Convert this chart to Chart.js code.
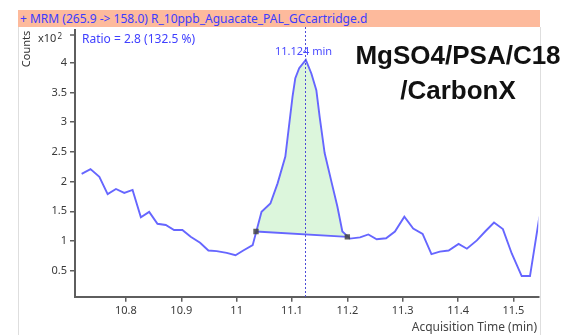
<!DOCTYPE html>
<html>
<head>
<meta charset="utf-8">
<title>MRM 265.9 -> 158.0</title>
<script src="https://cdn.jsdelivr.net/npm/chart.js@4/dist/chart.umd.min.js"></script>
<style>
  html, body { margin: 0; padding: 0; background: #fff; }
  #wrap { position: relative; width: 572px; height: 335px; overflow: hidden; font-family: "Noto Sans", "Liberation Sans", sans-serif; }
  #chart { position: absolute; left: 0; top: 0; }
  .frame { position: absolute; top: 27px; bottom: 0; width: 1px; background: #dedede; }
  #hdr { position: absolute; left: 18px; top: 10px; width: 522px; height: 17px; background: #fdba9c;
         color: #3c3cff; font-size: 12px; line-height: 17px; padding-left: 2px; box-sizing: border-box;
         white-space: nowrap; overflow: hidden; }
  #counts { position: absolute; left: 25px; top: 49px; font-size: 11px; color: #333;
            transform: translate(-50%, -50%) rotate(-90deg); white-space: nowrap; }
  #expo { position: absolute; left: 38px; top: 31px; font-size: 11px; line-height: 14px; color: #333; }
  #expo sup { font-size: 8px; position: relative; top: -2px; vertical-align: top; margin-left: 1px; }
  #ratio { position: absolute; left: 82px; top: 32px; font-size: 12px; line-height: 14px; color: #4040ff; white-space: nowrap; }
  #xtitle { position: absolute; right: 35px; top: 321px; font-size: 12px; line-height: 12px; color: #444; white-space: nowrap; }
  #method { position: absolute; left: 338px; width: 240px; top: 38px; text-align: center;
            font-family: "Liberation Sans", Arial, sans-serif; font-weight: bold; font-size: 26px;
            line-height: 35px; color: #111; }
</style>
</head>
<body>
<div id="wrap">
  <canvas id="chart" width="572" height="335"></canvas>
  <div class="frame" style="left:18px"></div>
  <div class="frame" style="left:540px"></div>
  <div id="hdr">+ MRM (265.9 -&gt; 158.0) R_10ppb_Aguacate_PAL_GCcartridge.d</div>
  <div id="counts">Counts</div>
  <div id="expo">x10<sup>2</sup></div>
  <div id="ratio">Ratio = 2.8 (132.5 %)</div>
  <div id="xtitle">Acquisition Time (min)</div>
  <div id="method">MgSO4/PSA/C18<br>/CarbonX</div>
</div>
<script>
// Chromatogram trace: acquisition time (min) and counts (x10^2)
const times = [10.720, 10.736, 10.752, 10.767, 10.782, 10.797, 10.812, 10.827, 10.842, 10.857,
               10.872, 10.887, 10.902, 10.917, 10.934, 10.949, 10.964, 10.982, 10.998, 11.012,
               11.029, 11.045, 11.061, 11.074, 11.088, 11.101, 11.106, 11.113, 11.125, 11.135,
               11.144, 11.150, 11.159, 11.172, 11.182, 11.191, 11.205, 11.223, 11.238, 11.253,
               11.270, 11.286, 11.303, 11.319, 11.336, 11.352, 11.367, 11.383, 11.401, 11.416,
               11.434, 11.449, 11.465, 11.481, 11.497, 11.515, 11.530, 11.547];
const counts = [2.13, 2.21, 2.08, 1.79, 1.875, 1.81, 1.86, 1.40, 1.49, 1.29,
                1.27, 1.185, 1.185, 1.07, 0.97, 0.84, 0.83, 0.80, 0.76, 0.84,
                0.93, 1.49, 1.63, 1.97, 2.42, 3.43, 3.74, 3.91, 4.05, 3.82,
                3.54, 3.09, 2.48, 1.97, 1.58, 1.16, 1.04, 1.06, 1.11, 1.03,
                1.045, 1.16, 1.41, 1.21, 1.12, 0.78, 0.82, 0.84, 0.95, 0.87,
                1.01, 1.16, 1.31, 1.20, 0.79, 0.41, 0.41, 1.41];

// Integration baseline end points (start, end)
const baseTimes = [11.035, 11.200];
const baseCounts = [1.16, 1.07];

// Retention time of the apex
const apexTime = 11.124;
const apexCount = 4.05;

// Axis tick values
const xTickValues = [10.8, 10.9, 11.0, 11.1, 11.2, 11.3, 11.4, 11.5];
const yTickValues = [0.5, 1, 1.5, 2, 2.5, 3, 3.5, 4];

const trace = times.map((t, i) => ({ x: t, y: counts[i] }));
const baseline = baseTimes.map((t, i) => ({ x: t, y: baseCounts[i] }));
const peakShape = [baseline[0]]
  .concat(trace.filter(p => p.x > baseTimes[0] && p.x < baseTimes[1]))
  .concat([baseline[1]]);

const traceColor = '#6666ff';
const axisColor = '#5e5e5e';
const tickFont = { family: '"Noto Sans", "Liberation Sans", sans-serif', size: 11 };

const apexMarker = {
  id: 'apexMarker',
  afterDatasetsDraw(chart) {
    const { ctx, chartArea, scales } = chart;
    const px = Math.round(scales.x.getPixelForValue(apexTime)) + 0.5;
    ctx.save();
    ctx.strokeStyle = '#4c4cd6';
    ctx.lineWidth = 1;
    ctx.setLineDash([2, 2]);
    ctx.beginPath();
    ctx.moveTo(px, 27);
    ctx.lineTo(px, chartArea.bottom);
    ctx.stroke();
    ctx.setLineDash([]);
    ctx.fillStyle = '#4a4aff';
    ctx.font = '11px "Noto Sans", "Liberation Sans", sans-serif';
    ctx.textAlign = 'center';
    ctx.textBaseline = 'middle';
    ctx.fillText(apexTime.toFixed(3) + ' min', px - 2, scales.y.getPixelForValue(apexCount) - 8);
    // small tick next to the exponent label on the count axis
    ctx.strokeStyle = axisColor;
    ctx.lineWidth = 1.5;
    ctx.beginPath();
    ctx.moveTo(chartArea.left - 5, chartArea.top + 5);
    ctx.lineTo(chartArea.left, chartArea.top + 5);
    ctx.stroke();
    ctx.restore();
  }
};

new Chart(document.getElementById('chart'), {
  type: 'line',
  data: {
    datasets: [
      {
        data: baseline,
        order: 1,
        borderColor: traceColor,
        borderWidth: 1.8,
        pointStyle: 'rect',
        pointRadius: 3.8,
        pointBackgroundColor: 'rgba(68,68,68,0.85)',
        pointBorderColor: 'rgba(68,68,68,0.85)',
        pointBorderWidth: 0,
        fill: false
      },
      {
        data: trace,
        order: 2,
        borderColor: traceColor,
        borderWidth: 1.9,
        pointRadius: 0,
        fill: false
      },
      {
        data: peakShape,
        order: 3,
        borderWidth: 0,
        borderColor: 'rgba(0,0,0,0)',
        backgroundColor: '#dcf6dc',
        pointRadius: 0,
        fill: 'shape'
      }
    ]
  },
  options: {
    responsive: false,
    animation: false,
    devicePixelRatio: 1,
    layout: { padding: { left: 0, top: 30, right: 33.7, bottom: 0 } },
    plugins: { legend: { display: false }, tooltip: { enabled: false } },
    elements: { line: { tension: 0 } },
    scales: {
      x: {
        type: 'linear',
        min: 10.708,
        max: 11.545,
        afterFit(scale) { scale.height = 38.3; },
        afterBuildTicks(scale) { scale.ticks = xTickValues.map(v => ({ value: v })); },
        border: { display: true, color: axisColor, width: 2 },
        grid: { display: true, drawOnChartArea: false, drawTicks: true, tickLength: 5, color: axisColor, lineWidth: 1.5 },
        ticks: {
          autoSkip: false, maxRotation: 0, padding: 3, color: '#3a3a3a', font: tickFont,
          callback: v => String(v)
        }
      },
      y: {
        type: 'linear',
        min: 0.062,
        max: 4.552,
        afterFit(scale) { scale.width = 75; },
        afterBuildTicks(scale) { scale.ticks = yTickValues.map(v => ({ value: v })); },
        border: { display: true, color: axisColor, width: 2 },
        grid: { display: true, drawOnChartArea: false, drawTicks: true, tickLength: 5, color: axisColor, lineWidth: 1.5 },
        ticks: {
          autoSkip: false, padding: 3, color: '#3a3a3a', font: tickFont,
          callback: v => String(v)
        }
      }
    }
  },
  plugins: [apexMarker]
});
</script>
</body>
</html>
